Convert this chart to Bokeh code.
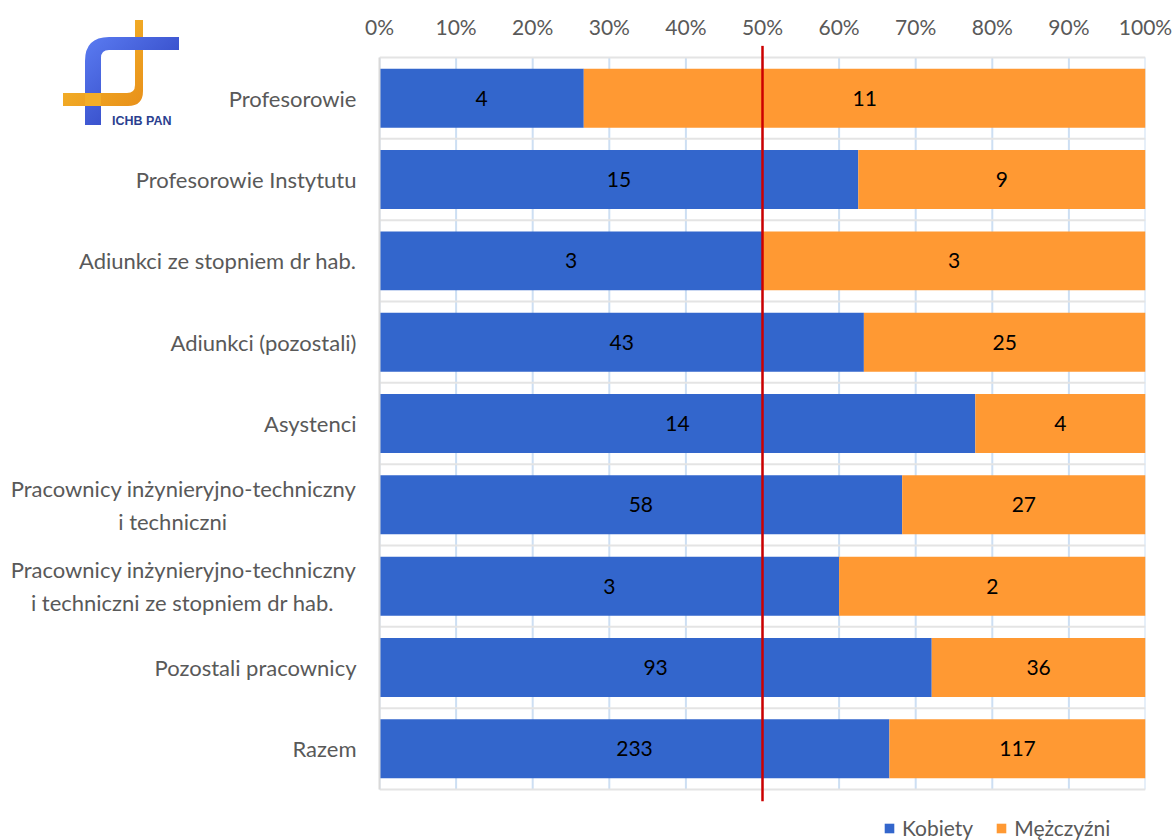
from bokeh.plotting import figure
from bokeh.models import (ColumnDataSource, Range1d, FixedTicker,
                          NumeralTickFormatter, Div)
from bokeh.core.properties import value
from bokeh.embed import file_html
from bokeh.resources import INLINE

# ---------------- data ----------------
categories = [
    "Profesorowie",
    "Profesorowie Instytutu",
    "Adiunkci ze stopniem dr hab.",
    "Adiunkci (pozostali)",
    "Asystenci",
    "Pracownicy inżynieryjno-techniczny\ni techniczni",
    "Pracownicy inżynieryjno-techniczny\ni techniczni ze stopniem dr hab.",
    "Pozostali pracownicy",
    "Razem",
]
kobiety = [4, 15, 3, 43, 14, 58, 3, 93, 233]
mezczyzni = [11, 9, 3, 25, 4, 27, 2, 36, 117]
series_names = ["Kobiety", "Mężczyźni"]
x_ticks = [0.0, 0.1, 0.2, 0.3, 0.4, 0.5, 0.6, 0.7, 0.8, 0.9, 1.0]
reference_share = 0.5

# ---------------- styles / layout ----------------
BLUE = "#3366cc"
ORANGE = "#ff9933"
GRAY_TEXT = "#595959"
FONT = "Lato"
FS = "21px"
CAT_FS = "22px"
NBSP = "\u00a0"
ZWSP = "\u200b"
second_line_pad = {5: 23, 6: 4}   # visual centring of second label lines
BAR_H = 0.725
PAD_BOTTOM = 0.627                 # room (in band units) for the legend
PAD_TOP = 0.148                    # room above the first band
REF_OVERHANG = 0.145               # red line runs a little past the bands

n = len(categories)
ypos = [n - 1 - i + 0.5 for i in range(n)]   # first category on top
k_frac = [k / (k + m) for k, m in zip(kobiety, mezczyzni)]
m_frac = [m / (k + m) for k, m in zip(kobiety, mezczyzni)]
src = ColumnDataSource(dict(
    y=ypos,
    k=k_frac,
    m=m_frac,
    k_mid=[f / 2 for f in k_frac],
    m_mid=[kf + mf / 2 for kf, mf in zip(k_frac, m_frac)],
    k_txt=[str(v) for v in kobiety],
    m_txt=[str(v) for v in mezczyzni],
))

W, H = 1174, 840
p = figure(
    y_range=Range1d(-PAD_BOTTOM, n + PAD_TOP),
    x_range=Range1d(0, 1),
    width=W, height=H,
    x_axis_location="above",
    output_backend="svg",
    toolbar_location=None,
    min_border_left=379, min_border_right=29,
    min_border_top=45, min_border_bottom=0,
)
p.outline_line_color = None
p.background_fill_color = "white"
p.border_fill_color = "white"
p.xgrid.visible = False
p.ygrid.visible = False

# vertical grid lines (only across the bands)
p.segment(x0=x_ticks, x1=x_ticks, y0=[0] * len(x_ticks), y1=[n] * len(x_ticks),
          line_color="#cddff3", line_width=2, level="underlay")
# band separators
p.segment(x0=[0] * (n + 1), x1=[1] * (n + 1), y0=list(range(n + 1)),
          y1=list(range(n + 1)), line_color="#e4e4e4", line_width=2,
          level="underlay")

# bars
p.hbar_stack(["k", "m"], y="y", height=BAR_H, color=[BLUE, ORANGE],
             line_color=None, source=src, legend_label=series_names)

# value labels
for col, txt in (("k_mid", "k_txt"), ("m_mid", "m_txt")):
    p.text(x=col, y="y", text=txt, source=src, text_align="center",
           text_baseline="middle", text_font=value(FONT),
           text_font_size=FS, text_color="black")

# 50 % line
p.segment(x0=[reference_share], x1=[reference_share], y0=[-REF_OVERHANG],
          y1=[n + REF_OVERHANG], line_color="#cc0000", line_width=2.5)

# axes
xa = p.xaxis[0]
xa.ticker = FixedTicker(ticks=x_ticks)
xa.formatter = NumeralTickFormatter(format="0%")
xa.axis_line_color = None
xa.major_tick_line_color = None
xa.minor_tick_line_color = None
xa.major_label_standoff = 1
xa.major_label_text_font = FONT
xa.major_label_text_font_size = FS
xa.major_label_text_color = GRAY_TEXT

ya = p.yaxis[0]
ya.ticker = FixedTicker(ticks=ypos)
ya.bounds = (0, n)
ya.axis_line_color = "#d9d9d9"
ya.axis_line_width = 2
ya.major_tick_line_color = None
ya.minor_tick_line_color = None
ya.major_label_standoff = 17
ya.major_label_text_font = FONT
ya.major_label_text_font_size = CAT_FS
ya.major_label_text_color = GRAY_TEXT
labels = {}
for i, (pos, cat) in enumerate(zip(ypos, categories)):
    if i in second_line_pad:
        first, second = cat.split("\n")
        cat = first + "\n" + second + NBSP * second_line_pad[i] + ZWSP
    labels[pos] = cat
ya.major_label_overrides = labels

# legend (inside the frame, in the free strip under the bands)
lg = p.legend[0]
lg.orientation = "horizontal"
lg.location = (504, 0)
lg.glyph_width = 12
lg.glyph_height = 12
lg.label_standoff = 7
lg.spacing = 22
lg.padding = 0
lg.margin = 0
lg.border_line_color = None
lg.background_fill_alpha = 0
lg.label_text_font = FONT
lg.label_text_font_size = FS
lg.label_text_color = GRAY_TEXT
lg.label_height = 22

# ---------------- logo (decoration) ----------------
logo_svg = """
<svg xmlns="http://www.w3.org/2000/svg" width="130" height="118" viewBox="0 0 130 118">
 <defs>
  <linearGradient id="gb" x1="0" y1="0" x2="1" y2="1">
   <stop offset="0" stop-color="#5b7cf2"/><stop offset="1" stop-color="#2436b4"/>
  </linearGradient>
  <linearGradient id="go" x1="0" y1="0" x2="1" y2="1">
   <stop offset="0" stop-color="#f8bf2e"/><stop offset="1" stop-color="#e8901a"/>
  </linearGradient>
 </defs>
 <path d="M80,5 L88,5 L88,76 Q88,91 73,91 L8,91 L8,78 L72,78 Q80,78 80,70 Z" fill="url(#go)"/>
 <path d="M124,22 L124,35 L54,35 Q46,35 46,43 L46,110 L30,110 L30,46 Q30,22 54,22 Z" fill="url(#gb)"/>
 <rect x="30" y="78" width="16" height="13" fill="#f3ad27"/>
 <text x="57" y="110" font-family="Lato, sans-serif" font-weight="bold" font-size="12.5" fill="#2b3f8f">ICHB PAN</text>
</svg>
"""
logo = Div(text=logo_svg, width=130, height=118,
           styles={"position": "absolute", "left": "55px", "top": "15px",
                   "z-index": "5"})
p.elements.append(logo)

open("out.html", "w").write(file_html(p, INLINE))
